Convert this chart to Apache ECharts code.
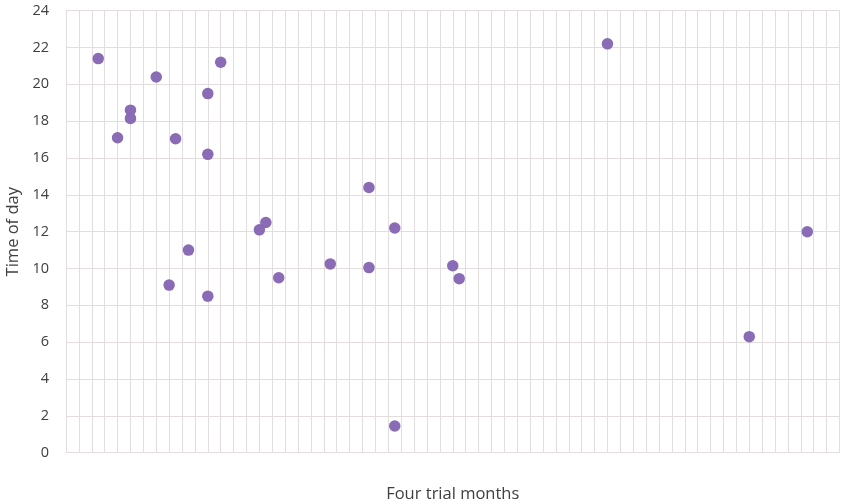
<!DOCTYPE html>
<html>
<head>
<meta charset="utf-8">
<script src="https://cdn.jsdelivr.net/npm/echarts@6/dist/echarts.min.js"></script>
<style>
html,body{margin:0;padding:0;background:#fff;}
#chart{width:841px;height:504px;}
</style>
</head>
<body>
<div id="chart"></div>
<script>
// Day within the four trial months (0-120)
const days  = [5, 8, 10, 10, 14, 16, 17, 19, 22, 22, 22, 24, 30, 31, 33, 41, 47, 47, 51, 51, 60, 61, 84, 106, 115];
// Time of day (hours)
const times = [21.4, 17.1, 18.6, 18.15, 20.4, 9.1, 17.05, 11.0, 19.5, 16.2, 8.5, 21.2, 12.1, 12.5, 9.5, 10.25, 14.4, 10.05, 12.2, 1.45, 10.15, 9.45, 22.2, 6.3, 12.0];
const yTicks = [0, 2, 4, 6, 8, 10, 12, 14, 16, 18, 20, 22, 24];

const points = days.map((d, i) => [d, times[i]]);
const gridColor = '#e4dddb';
const textColor = '#404040';
const fontFamily = '"Open Sans", sans-serif';

const chart = echarts.init(document.getElementById('chart'), null, {renderer: 'canvas'});
chart.setOption({
  animation: false,
  backgroundColor: '#ffffff',
  grid: {left: 66, right: 1.5, top: 10.7, bottom: 51.3, containLabel: false, outerBoundsMode: 'none'},
  xAxis: {
    type: 'value',
    min: 0, max: 120, interval: 2,
    name: 'Four trial months',
    nameLocation: 'middle',
    nameGap: 33,
    nameTextStyle: {color: textColor, fontSize: 16.5, fontFamily: fontFamily},
    axisLine: {show: true, lineStyle: {color: gridColor, width: 1}},
    axisTick: {show: false},
    axisLabel: {show: false},
    splitLine: {show: true, lineStyle: {color: gridColor, width: 1}}
  },
  yAxis: {
    type: 'value',
    min: yTicks[0], max: yTicks[yTicks.length - 1], interval: yTicks[1] - yTicks[0],
    name: 'Time of day',
    nameLocation: 'middle',
    nameGap: 38,
    nameTextStyle: {color: textColor, fontSize: 16.5, fontFamily: fontFamily},
    axisLine: {show: true, lineStyle: {color: gridColor, width: 1}},
    axisTick: {show: false},
    axisLabel: {color: textColor, fontSize: 14.5, fontFamily: fontFamily, margin: 17},
    splitLine: {show: true, lineStyle: {color: gridColor, width: 1}}
  },
  series: [{
    type: 'scatter',
    data: points,
    symbol: 'circle',
    symbolSize: 11.5,
    itemStyle: {color: '#8a6bb5', opacity: 1}
  }]
});
</script>
</body>
</html>
